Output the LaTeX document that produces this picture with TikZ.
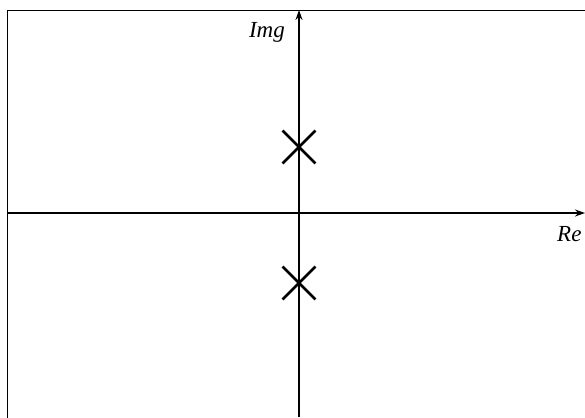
\documentclass[tikz,border=0pt]{standalone}
\usepackage{fontspec}
\setmainfont{Liberation Serif}
\usetikzlibrary{arrows.meta,shapes.misc}
\begin{document}
\begin{tikzpicture}[x=1pt,y=-1pt,
  axis/.style={line width=1.5pt,-{Stealth[length=10pt,width=7pt]}},
  pole/.style={draw,cross out,line width=2.8pt,minimum size=30pt,inner sep=0pt},
  lbl/.style={font=\fontsize{23}{23}\selectfont\itshape,inner sep=0pt}]
\useasboundingbox (0,0) rectangle (585,417);
\clip (0,0) rectangle (585,417);
\draw[line width=1.6pt] (7.5,10.5) rectangle (620,440);
\coordinate (ybot) at (299,417);
\coordinate (ytop) at (299,10);
\coordinate (xleft) at (7.5,213);
\coordinate (xright) at (585,213);
\draw[axis] (ybot) -- (ytop);
\draw[axis] (xleft) -- (xright);
\node[pole] (p1) at (299,147) {};
\node[pole] (p2) at (299,283) {};
\node[lbl,anchor=base east] (im) at (285,38) {Img};
\node[lbl,anchor=base west] (re) at (557,241) {Re};
\end{tikzpicture}
\end{document}
